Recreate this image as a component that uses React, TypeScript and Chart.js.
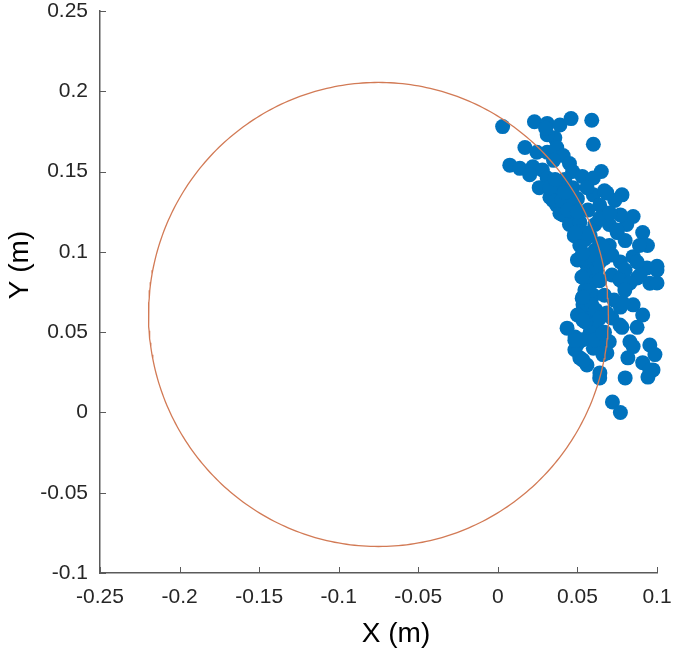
import React, { useEffect, useRef } from "react";
import { Chart, registerables } from "chart.js";

Chart.register(...registerables);

const X_TICKS = [-0.25, -0.2, -0.15, -0.1, -0.05, 0, 0.05, 0.1];
const Y_TICKS = [-0.1, -0.05, 0, 0.05, 0.1, 0.15, 0.2, 0.25];
const X_TITLE = "X (m)";
const Y_TITLE = "Y (m)";

const CIRCLE_CENTER_X = -0.075;
const CIRCLE_CENTER_Y = 0.061;
const CIRCLE_RADIUS = 0.1445;

const POINT_X = [
  0.003, 0.023, 0.031, 0.039, 0.046, 0.059, 0.060, 0.017, 0.0245, 0.031,
  0.0075, 0.0138, 0.022, 0.028, 0.0358, 0.037, 0.041, 0.045, 0.047, 0.053,
  0.065, 0.060, 0.031, 0.030, 0.035, 0.020, 0.031, 0.078, 0.0327, 0.037,
  0.041, 0.045, 0.048, 0.0515, 0.053, 0.056, 0.060, 0.064, 0.0685, 0.070,
  0.075, 0.081, 0.085, 0.091, 0.094, 0.100, 0.085, 0.070, 0.064, 0.058,
  0.0515, 0.047, 0.039, 0.056, 0.050, 0.044, 0.026, 0.042, 0.0435, 0.0485,
  0.053, 0.056, 0.058, 0.062, 0.064, 0.0565, 0.062, 0.067, 0.070, 0.077,
  0.085, 0.091, 0.0875, 0.078, 0.083, 0.0955, 0.080, 0.0875, 0.0955, 0.100,
  0.0937, 0.064, 0.058, 0.0535, 0.055, 0.060, 0.067, 0.0717, 0.077, 0.067,
  0.061, 0.072, 0.077, 0.064, 0.080, 0.0943, 0.0975, 0.0987, 0.091, 0.0817,
  0.085, 0.066, 0.0515, 0.056, 0.0484, 0.060, 0.050, 0.0547, 0.059, 0.0547,
  0.059, 0.050, 0.0616, 0.064, 0.058, 0.050, 0.0547, 0.061, 0.0566, 0.064,
  0.077, 0.0735, 0.067, 0.0515, 0.045, 0.0377, 0.064, 0.0717, 0.073, 0.053,
  0.061, 0.080, 0.089, 0.0875, 0.0717, 0.080,
  0.0484, 0.0534, 0.0685, 0.066, 0.0534, 0.0534, 0.0528, 0.0534, 0.0559, 0.0484,
  0.039, 0.0346, 0.0327, 0.0471, 0.0685, 0.0704, 0.0748, 0.066, 0.0767, 0.0786,
  0.0685, 0.0641, 0.100, 0.0893, 0.083, 0.0798, 0.0767, 0.0955, 0.0641,
  0.040, 0.044, 0.036, 0.050, 0.042,
];
const POINT_Y = [
  0.178, 0.181, 0.180, 0.179, 0.183, 0.182, 0.167, 0.165, 0.162, 0.162,
  0.154, 0.152, 0.153, 0.151, 0.171, 0.165, 0.160, 0.155, 0.150, 0.147,
  0.150, 0.146, 0.173, 0.177, 0.157, 0.148, 0.146, 0.1355, 0.134, 0.129,
  0.123, 0.117, 0.110, 0.104, 0.098, 0.092, 0.1355, 0.129, 0.123, 0.117,
  0.112, 0.117, 0.122, 0.112, 0.104, 0.091, 0.097, 0.104, 0.105, 0.110,
  0.1185, 0.125, 0.137, 0.140, 0.133, 0.140, 0.140, 0.145, 0.0525, 0.047,
  0.071, 0.0775, 0.0875, 0.0885, 0.082, 0.0607, 0.0557, 0.050, 0.044, 0.0656,
  0.067, 0.0607, 0.053, 0.053, 0.044, 0.042, 0.078, 0.0837, 0.0805, 0.0887,
  0.090, 0.042, 0.050, 0.067, 0.0563, 0.073, 0.073, 0.0856, 0.0937, 0.096,
  0.101, 0.0065, 0.000, 0.0215, 0.0215, 0.022, 0.0265, 0.036, 0.031, 0.034,
  0.041, 0.036, 0.034, 0.0295, 0.039, 0.040, 0.0426, 0.0856, 0.081, 0.0762,
  0.067, 0.0607, 0.0638, 0.0937, 0.098, 0.095, 0.1075, 0.117, 0.126, 0.121,
  0.123, 0.132, 0.138, 0.1125, 0.132, 0.1417, 0.0588, 0.0588, 0.070, 0.0452,
  0.0452, 0.107, 0.104, 0.0937, 0.098, 0.0887,
  0.045, 0.0326, 0.037, 0.0494, 0.0575, 0.0718, 0.0843, 0.0993, 0.1117, 0.1117,
  0.124, 0.132, 0.140, 0.140, 0.1367, 0.1242, 0.1136, 0.103, 0.0825, 0.0681,
  0.0619, 0.0825, 0.0806, 0.0856, 0.0806, 0.0762, 0.0544, 0.0264, 0.0246,
  0.132, 0.126, 0.145, 0.125, 0.137,
];

const FONT = "'Liberation Sans', Arial, Helvetica, sans-serif";
const AXIS_COLOR = "#5a5a5a";
const TEXT_COLOR = "#262626";

const fmt = (v: number) => {
  const r = Math.round(v * 100) / 100;
  return (r === 0 ? 0 : r).toString();
};

export default function App() {
  const ref = useRef<HTMLCanvasElement | null>(null);

  useEffect(() => {
    if (!ref.current) return;
    const circle: { x: number; y: number }[] = [];
    for (let i = 0; i <= 360; i++) {
      const a = (i * Math.PI) / 180;
      circle.push({
        x: CIRCLE_CENTER_X + CIRCLE_RADIUS * Math.cos(a),
        y: CIRCLE_CENTER_Y + CIRCLE_RADIUS * Math.sin(a),
      });
    }
    const points = POINT_X.map((x, i) => ({ x, y: POINT_Y[i] }));

    const decor = {
      id: "decor",
      afterDraw(chart: any) {
        const ctx = chart.ctx;
        const xs = chart.scales.x;
        const ys = chart.scales.y;
        const area = chart.chartArea;
        ctx.save();
        ctx.strokeStyle = AXIS_COLOR;
        ctx.lineWidth = 1;
        ctx.beginPath();
        X_TICKS.forEach((v) => {
          const px = Math.round(xs.getPixelForValue(v)) + 0.5;
          ctx.moveTo(px, area.bottom);
          ctx.lineTo(px, area.bottom - 6);
        });
        Y_TICKS.forEach((v) => {
          const py = Math.round(ys.getPixelForValue(v)) + 0.5;
          ctx.moveTo(area.left, py);
          ctx.lineTo(area.left + 6, py);
        });
        ctx.stroke();
        ctx.fillStyle = "#000";
        ctx.font = `28px ${FONT}`;
        ctx.textAlign = "center";
        ctx.textBaseline = "middle";
        ctx.fillText(X_TITLE, 396, 634);
        ctx.translate(20, 265);
        ctx.rotate(-Math.PI / 2);
        ctx.fillText(Y_TITLE, 0, 0);
        ctx.restore();
      },
    };

    const chart = new Chart(ref.current, {
      type: "scatter",
      data: {
        datasets: [
          {
            label: "circle",
            data: circle,
            showLine: true,
            borderColor: "#D27A55",
            borderWidth: 1.3,
            pointRadius: 0,
            fill: false,
            tension: 0,
          },
          {
            label: "points",
            data: points,
            backgroundColor: "#0072BD",
            borderWidth: 0,
            pointRadius: 7.5,
            clip: false,
          },
        ],
      },
      options: {
        responsive: false,
        animation: false,
        layout: { padding: { top: 11, right: 28, left: 0, bottom: 0 } },
        plugins: {
          legend: { display: false },
          tooltip: { enabled: false },
        },
        scales: {
          x: {
            type: "linear",
            min: -0.25,
            max: 0.1,
            afterBuildTicks: (s: any) => {
              s.ticks = X_TICKS.map((v) => ({ value: v }));
            },
            afterFit: (s: any) => {
              s.height = 85;
              s.paddingLeft = 0;
              s.paddingRight = 0;
            },
            grid: { display: false, drawTicks: false },
            border: { display: true, color: AXIS_COLOR, width: 1.5 },
            ticks: {
              padding: 12,
              color: TEXT_COLOR,
              font: { size: 21, family: FONT },
              maxRotation: 0,
              autoSkip: false,
              callback: (v: any) => fmt(Number(v)),
            },
          },
          y: {
            type: "linear",
            min: -0.1,
            max: 0.25,
            afterBuildTicks: (s: any) => {
              s.ticks = Y_TICKS.map((v) => ({ value: v }));
            },
            afterFit: (s: any) => {
              s.width = 100;
              s.paddingTop = 0;
              s.paddingBottom = 0;
            },
            grid: { display: false, drawTicks: false },
            border: { display: true, color: AXIS_COLOR, width: 1.5 },
            ticks: {
              padding: 12,
              color: TEXT_COLOR,
              font: { size: 21, family: FONT },
              autoSkip: false,
              callback: (v: any) => fmt(Number(v)),
            },
          },
        },
      },
      plugins: [decor],
    });
    return () => chart.destroy();
  }, []);

  return (
    <div style={{ position: "fixed", left: 0, top: 0, width: 685, height: 658, background: "#fff" }}>
      <canvas ref={ref} width={685} height={658} style={{ display: "block" }} />
    </div>
  );
}
